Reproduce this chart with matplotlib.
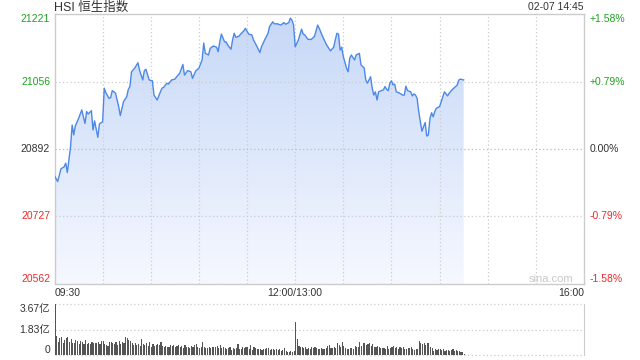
import numpy as np
import matplotlib
matplotlib.use("Agg")
import matplotlib.pyplot as plt
from matplotlib.patches import Polygon
from matplotlib.colors import LinearSegmentedColormap
from matplotlib.transforms import offset_copy, blended_transform_factory

plt.rcParams['font.family'] = ['Liberation Sans', 'Noto Sans CJK SC', 'DejaVu Sans']

# ---------------- data ----------------
title = "HSI 恒生指数"
stamp = "02-07 14:45"
y_ticks = [21221, 21056, 20892, 20727, 20562]
pct_labels = ["+1.58%", "+0.79%", "0.00%", "-0.79%", "-1.58%"]
x_tick_pos = [0, 150, 330]
x_tick_labels = ["09:30", "12:00/13:00", "16:00"]
vol_ticks = [3.67, 1.83, 0]
vol_labels = ["3.67亿", "1.83亿", "0"]

# minutes after 09:30 on the trading axis (lunch break removed)
price_min = [0, 2, 4, 6, 7, 8, 10, 11, 12, 13, 15, 17, 19, 20, 21, 23, 24, 25, 27, 28,
             30, 31, 32, 34, 35, 36, 38, 40, 41, 43, 45, 46, 47, 48, 50, 52, 53, 55, 56, 57,
             59, 61, 62, 64, 66, 67, 68, 70, 71, 73, 75, 77, 78, 80, 81, 83, 85, 86, 88, 90,
             92, 93, 94, 96, 97, 99, 101, 102, 103, 104, 106, 107, 108, 110, 111, 112, 113, 115, 116, 118,
             119, 121, 123, 124, 126, 128, 129, 131, 133, 134, 136, 137, 139, 141, 143, 144, 146, 147, 148, 149,
             150, 152, 154, 155, 156, 158, 160, 162, 164, 165, 167, 169, 170, 172, 174, 175, 176, 177, 178, 179,
             180, 182, 183, 184, 185, 187, 188, 190, 191, 193, 194, 195, 197, 198, 199, 200, 201, 202, 205, 206,
             207, 208, 209, 210, 211, 212, 213, 215, 217, 218, 219, 220, 222, 223, 224, 225, 226, 227, 228, 229,
             230, 231, 232, 233, 234, 235, 236, 237, 238, 240, 241, 242, 243, 245, 246, 248, 250, 251, 252, 253,
             255]
price_val = [20826, 20812, 20843, 20848, 20857, 20834, 20897, 20950, 20926, 20948, 20966, 20987, 20954, 20983, 20977, 20985, 20938, 20960, 20920, 20953,
             20958, 21040, 21029, 21015, 21017, 21034, 21028, 20995, 20973, 21007, 21019, 21037, 21044, 21080, 21089, 21102, 21084, 21060, 21083, 21086,
             21060, 21058, 21023, 21011, 21031, 21040, 21042, 21052, 21050, 21060, 21062, 21072, 21076, 21098, 21072, 21083, 21080, 21064, 21082, 21089,
             21109, 21150, 21125, 21121, 21137, 21143, 21140, 21129, 21153, 21172, 21153, 21153, 21145, 21135, 21158, 21174, 21164, 21167, 21172, 21180,
             21186, 21172, 21170, 21158, 21143, 21127, 21141, 21158, 21173, 21190, 21202, 21197, 21197, 21194, 21200, 21196, 21200, 21211, 21206, 21194,
             21141, 21158, 21184, 21172, 21170, 21159, 21159, 21166, 21194, 21186, 21167, 21150, 21143, 21131, 21140, 21158, 21174, 21172, 21133, 21140,
             21117, 21089, 21080, 21113, 21121, 21109, 21121, 21125, 21097, 21089, 21060, 21052, 21068, 21040, 21023, 21031, 21011, 21031, 21036, 21044,
             21037, 21034, 21052, 21058, 21048, 21050, 21031, 21028, 21023, 21023, 21045, 21034, 21031, 21021, 21026, 21023, 21015, 20983, 20958, 20935,
             20946, 20956, 20923, 20926, 20966, 20980, 20970, 20983, 20991, 20995, 21007, 21019, 21031, 21021, 21028, 21037, 21044, 21048, 21060, 21062,
             21060]

# volume per minute (亿)
volume = [3.67,
          1.37, 0.96, 1.20, 1.32, 0.85, 1.08, 1.25, 1.28, 0.96, 1.13, 0.90,
          0.85, 1.08, 1.00, 0.80, 1.00, 0.92, 0.80, 1.08, 0.80, 0.85, 0.78, 0.93, 0.88,
          0.85, 0.90, 0.96, 0.80, 1.00, 1.00, 0.82, 0.72, 0.65, 0.95, 0.95, 0.85, 0.80,
          0.96, 0.72, 1.03, 0.80, 0.96, 0.88, 1.32, 1.20, 1.08, 1.03, 0.90, 0.72, 0.85,
          0.72, 0.80, 0.65, 1.15, 0.80, 0.70, 0.85, 0.65, 0.95, 0.60, 0.80, 0.65, 0.70,
          0.78, 0.70, 0.96, 0.65, 0.55, 0.68, 0.60, 0.60, 0.72, 0.65, 0.72, 0.55, 0.62,
          0.72, 0.60, 0.65, 0.48, 0.72, 0.58, 0.60, 0.48, 0.65, 0.55, 0.70, 0.80, 0.58,
          0.48, 0.55, 0.95, 0.55, 0.48, 0.52, 0.60, 0.53, 0.60, 0.55, 0.60, 0.65, 0.50,
          0.70, 0.48, 0.60, 0.53, 0.43, 0.50, 0.55, 0.36, 0.48, 0.43, 0.50, 0.80, 0.45,
          0.40, 0.55, 0.48, 0.55, 0.55, 0.45, 0.70, 0.36, 0.55, 0.48, 0.40, 0.40, 0.42,
          0.36, 0.43, 0.40, 0.48, 0.53, 0.38, 0.40, 0.40, 0.33, 0.40, 0.36, 0.40, 0.30,
          0.36, 0.53, 0.30, 0.24, 0.24, 0.26, 0.24, 0.28,
          2.40,
          1.15, 0.65, 0.60, 0.55, 0.48, 0.55, 0.40, 0.48, 0.40, 0.60, 0.48, 0.55, 0.48,
          0.45, 0.40, 0.50, 0.45, 0.40, 0.48,
          0.65, 0.72, 0.50, 0.48, 0.60, 0.48, 0.84, 0.72, 0.60, 0.96,
          0.65, 0.48, 0.41, 0.45, 0.48, 0.53, 0.41, 0.65, 0.55, 0.60,
          0.96, 0.65, 0.84, 0.89, 0.70, 0.80, 0.89, 0.65, 0.80, 0.55,
          0.60, 0.65, 0.55, 0.48, 0.53, 0.48, 0.45, 0.65, 0.41, 0.48,
          0.55, 0.65, 0.50, 0.60, 0.41, 0.55, 0.48, 0.55, 0.45, 0.41,
          0.48, 0.48, 0.55, 0.40, 0.36, 0.45, 0.40,
          1.01, 0.89, 0.80, 0.84, 0.70, 0.89, 0.84, 0.55, 0.48, 0.31,
          0.41, 0.36, 0.46, 0.40, 0.36, 0.41, 0.31, 0.36, 0.33, 0.31,
          0.36, 0.41, 0.31, 0.36, 0.29, 0.30, 0.24, 0.20, 0.07]
vol_min = list(range(len(volume)))

# ---------------- style ----------------
GREEN = '#1ea01e'
RED = '#f02828'
DARK = '#333333'
GRID = '#cccccc'
label_colors = [GREEN, GREEN, DARK, RED, RED]
label_va = ['top', 'center', 'center', 'center', 'bottom']
FS = 7.5

W, H = 640, 360
fig = plt.figure(figsize=(6.4, 3.6), dpi=100)
L, R = 54.5, 584
ax = fig.add_axes([L / W, 1 - 284 / H, (R - L) / W, 270 / H])
axv = fig.add_axes([L / W, 1 - 355 / H, (R - L) / W, (355 - 304.3) / H])

xmax = 330
ymin, ymax = y_ticks[-1], y_ticks[0]

# gradient fill below the line
cmap = LinearSegmentedColormap.from_list('g', ['#f6f8ff', '#c6d8f7'])
grad = np.linspace(0, 1, 256).reshape(-1, 1)
im = ax.imshow(grad, extent=[0, xmax, ymin, ymax], origin='lower', aspect='auto',
               cmap=cmap, zorder=1, interpolation='bilinear')
verts = [(price_min[0], ymin)] + list(zip(price_min, price_val)) + [(price_min[-1], ymin)]
poly = Polygon(verts, closed=True, facecolor='none', edgecolor='none')
ax.add_patch(poly)
im.set_clip_path(poly)

ax.plot(price_min, price_val, color='#4d88e8', lw=1.0, zorder=4, solid_joinstyle='round')

for m in range(30, xmax, 30):
    ax.axvline(m, color=GRID, lw=0.9, ls=(0, (1, 2)), zorder=2)
for v in y_ticks[1:-1]:
    ax.axhline(v, color='#bbbbbb' if v == y_ticks[2] else GRID, lw=0.9, ls=(0, (1, 2)), zorder=2)

ax.set_xlim(0, xmax)
ax.set_ylim(ymin, ymax)
ax.set_xticks([])
ax.set_yticks([])
for s in ax.spines.values():
    s.set_color(GRID)
    s.set_linewidth(1.0)

ytr = ax.get_yaxis_transform()
left_tr = offset_copy(ytr, fig=fig, x=-4.5, y=0, units='dots')
right_tr = offset_copy(ax.transAxes, fig=fig, x=6, y=0, units='dots')
right_tr = blended_transform_factory(right_tr, ax.transData)
for v, lab, pct, col, va in zip(y_ticks, y_ticks, pct_labels, label_colors, label_va):
    ax.text(0, v, str(lab), transform=left_tr, ha='right', va=va, color=col, fontsize=FS)
    ax.text(1, v, pct, transform=right_tr, ha='left', va=va, color=col, fontsize=FS)

xtr = offset_copy(ax.get_xaxis_transform(), fig=fig, x=0, y=-4, units='dots')
for p, lab, ha in zip(x_tick_pos, x_tick_labels, ['left', 'center', 'right']):
    ax.text(p, 0, lab, transform=xtr, ha=ha, va='top', color=DARK, fontsize=FS)

ax.text(0.98, 0.019, 'sina.com', transform=ax.transAxes, ha='right', va='center',
        color='#c8c8c8', fontsize=8)

fig.text(L / W, 1 - 8 / H, title, ha='left', va='center', color=DARK, fontsize=9)
fig.text(R / W, 1 - 7.5 / H, stamp, ha='right', va='center', color=DARK, fontsize=FS)

# ---------------- volume panel ----------------
axv.bar(vol_min, volume, width=0.7, align='edge', color='#555555', zorder=3)
axv.set_xlim(0, xmax)
axv.set_ylim(0, vol_ticks[0])
for v in vol_ticks:
    axv.axhline(v, color=GRID, lw=0.9, ls=(0, (1, 2)), zorder=1, clip_on=False)
axv.set_xticks([])
axv.set_yticks([])
for k, s in axv.spines.items():
    s.set_visible(k == 'right')
axv.spines['right'].set_color(GRID)
vtr = offset_copy(axv.get_yaxis_transform(), fig=fig, x=-4.5, y=0, units='dots')
for v, lab, va in zip(vol_ticks, vol_labels, ['top', 'center', 'bottom']):
    axv.text(0, v, lab, transform=vtr, ha='right', va=va, color=DARK, fontsize=FS)

fig.savefig('out.png', dpi=100)
